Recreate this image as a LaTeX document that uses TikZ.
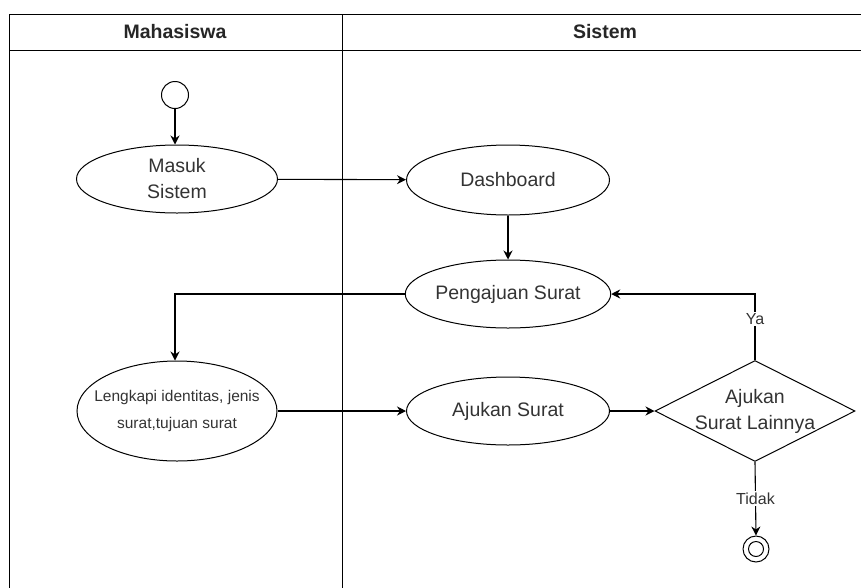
\documentclass[tikz,border=0pt]{standalone}
\usepackage{fontspec}
\setmainfont{Liberation Sans}
\usetikzlibrary{shapes.geometric,arrows.meta}
\begin{document}
\begin{tikzpicture}[x=1pt,y=-1pt,
  line width=1.1pt,
  act/.style={ellipse,draw,line width=1pt,minimum width=203pt,minimum height=68pt,inner sep=0pt,align=center,font=\fontsize{19.5}{26}\selectfont,text=black!80},
  flow/.style={-{Stealth[length=9pt,width=9pt]}},
  lbl/.style={fill=white,inner sep=1.5pt,font=\fontsize{16}{18}\selectfont,text=black!80},
  lane/.style={font=\bfseries\fontsize{19.5}{22}\selectfont,text=black!85}]
\useasboundingbox (0,0) rectangle (861,587);
\begin{scope}
\clip (0,0) rectangle (861,587);
% swimlane frame
\draw[line width=1pt] (9,14) rectangle (870,600);
\draw[line width=1pt] (9,50) -- (870,50);
\draw[line width=1pt] (342,14) -- (342,600);
\end{scope}
\node[lane] (hm) at (175,32) {Mahasiswa};
\node[lane] (hs) at (605,32) {Sistem};

% start
\node[circle,draw,line width=1pt,minimum size=27pt,inner sep=0pt] (start) at (175,95) {};
% activities
\node[act,minimum width=201pt] (masuk) at (177,179) {Masuk\\Sistem};
\node[act,minimum height=70pt] (dash) at (508,180) {Dashboard};
\node[act] (peng) at (508,294) {Pengajuan Surat};
\node[act,minimum width=200pt,minimum height=100pt,inner xsep=-20pt,font=\fontsize{15.5}{27}\selectfont] (leng) at (177,411) {Lengkapi identitas, jenis\\surat,tujuan surat};
\node[act] (ajuk) at (508,411) {Ajukan Surat};
% decision
\node[diamond,draw,line width=1pt,aspect=2,minimum width=200pt,minimum height=101pt,inner sep=0pt,inner xsep=-14pt,align=center,font=\fontsize{19.5}{26}\selectfont,text=black!80] (dec) at (755,411) {Ajukan\\Surat Lainnya};
% end
\node[circle,draw,line width=1pt,minimum size=26pt,inner sep=0pt] (end) at (756,549) {};
\node[circle,draw,line width=1pt,minimum size=15pt,inner sep=0pt] (endin) at (756,549) {};

% connectors
\draw[flow] (start) -- (masuk.north -| start);
\draw[flow] (masuk) -- (dash);
\draw[flow] (dash) -- (peng);
\draw[flow] (peng.west) -| (leng.north -| start);
\draw[flow] (leng) -- (ajuk);
\draw[flow] (ajuk) -- (dec);
\draw[flow] (dec.north) |- (peng.east) node[lbl,pos=0.31] {Ya};
\draw[flow] (dec.south) -- (end.north) node[lbl,pos=0.5] {Tidak};
\end{tikzpicture}
\end{document}
